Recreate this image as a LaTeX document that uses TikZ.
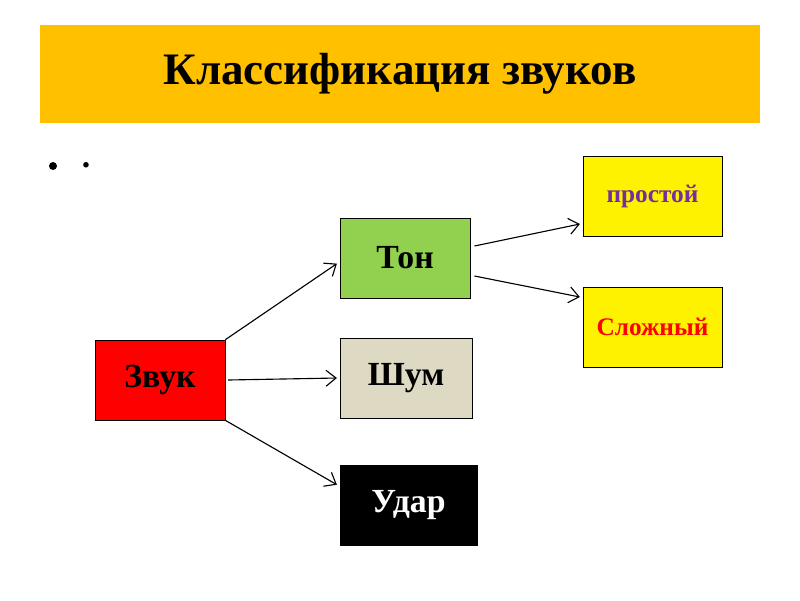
\documentclass[tikz,border=0pt]{standalone}
\usepackage{fontspec}
\setmainfont{Liberation Serif}
\usetikzlibrary{positioning,arrows.meta}
\definecolor{titlebar}{HTML}{FFC000}
\definecolor{tongreen}{HTML}{92D050}
\definecolor{shumgray}{HTML}{DDD9C3}
\definecolor{purpletext}{HTML}{7030A0}
\tikzset{
box/.style={rectangle,draw=black,minimum width=3.25cm,minimum height=2cm,text centered,font=\fontsize{24}{28}\selectfont\bfseries},
smallbox/.style={box,fill=yellow,minimum width=3.475cm,font=\fontsize{18}{22}\selectfont\bfseries},
arrow/.style={thick,-{Straight Barb[length=2.5mm,width=4mm]}}
}
\begin{document}
\begin{tikzpicture}[x=0.025cm,y=-0.025cm]
\useasboundingbox (0,0) rectangle (800,600);
%Title
\node[fill=titlebar,minimum width=18cm,minimum height=2.45cm,font=\fontsize{32}{36}\selectfont\bfseries] (title) at (400,74) {Классификация звуков};
\node[circle,fill=black,inner sep=0pt,minimum size=0.2cm] (bullet) at (53,166) {};
\node[font=\fontsize{24}{28}\selectfont\bfseries] (dot) at (86,165) {.};
%Nodes
\node[box,fill=red] (zvuk) at (160,380) {Звук};
\node[box,fill=tongreen] (ton) at (405,258) {Тон};
\node[box,fill=shumgray,minimum width=3.3cm] (shum) at (406,378) {Шум};
\node[box,fill=black,text=white,minimum width=3.425cm] (udar) at (408.5,505) {Удар};
\node[smallbox,text=purpletext] (prostoy) at (652.5,196) {простой};
\node[smallbox,text=red] (slozhny) at (652.5,327) {Сложный};
%Arrows
\draw[arrow] (zvuk.north east) -- ([xshift=-2pt,yshift=-4pt]ton.west);
\draw[arrow] ([xshift=2pt]zvuk.east) -- ([xshift=-2pt]shum.west);
\draw[arrow] (zvuk.south east) -- ([xshift=-2pt,yshift=-0.5cm]udar.north west);
\draw[arrow] ([xshift=3pt,yshift=0.3cm]ton.east) -- ([xshift=-2pt,yshift=-0.7cm]prostoy.west);
\draw[arrow] ([xshift=3pt,yshift=-0.45cm]ton.east) -- ([xshift=-2pt,yshift=0.75cm]slozhny.west);
\end{tikzpicture}
\end{document}
